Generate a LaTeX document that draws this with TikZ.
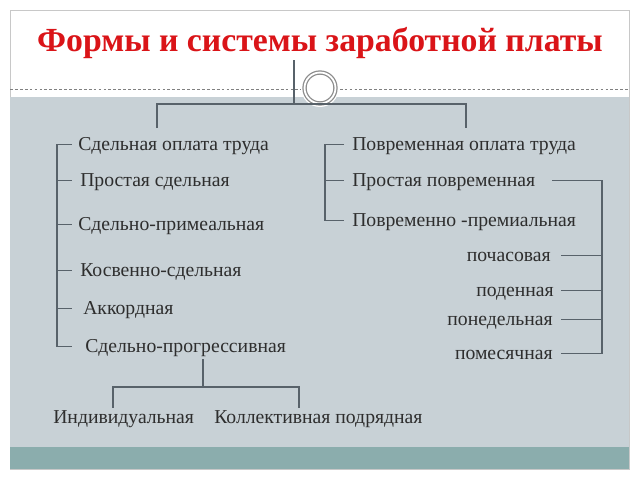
\documentclass[tikz,border=0pt]{standalone}
\usepackage{fontspec}
\setmainfont{Liberation Serif}
\usepackage{tikz}
\usetikzlibrary{positioning}
\definecolor{bodyGrey}{RGB}{200,209,214}
\definecolor{barTeal}{RGB}{139,173,173}
\definecolor{lineGrey}{RGB}{88,98,106}
\definecolor{titleRed}{RGB}{218,20,24}
\definecolor{frameGrey}{RGB}{200,200,200}

\begin{document}
\begin{tikzpicture}
      [x=0.025cm, y=-0.025cm, font=\fontsize{14}{16}\selectfont,
      % STYLES
      % The kind style is used for every form or system of pay, set on its baseline
      kind/.style={inner sep=0pt, text height=10.5pt, text depth=2.5pt, anchor=base west, text=black!82},
      % The kindRight style is the same, flush right against the side bracket
      kindRight/.style={kind, anchor=base east},
      % The heading style is used for the slide title
      heading/.style={inner sep=0pt, font=\fontsize{24}{28}\selectfont\bfseries, text=titleRed},
      % The branch style is used for the bracket lines
      branch/.style={draw=lineGrey, line width=0.9pt}]

      % Slide background
      \useasboundingbox (0,0) rectangle (640,480);
      \fill[white] (0,0) rectangle (640,480);
      \draw[frameGrey, fill=white] (10,10) rectangle (629,469);
      \fill[bodyGrey] (10,97) rectangle (629,447);
      \fill[barTeal] (10,447) rectangle (629,469);
      \draw[gray, dash pattern=on 2pt off 1.5pt, line width=0.5pt] (10,89) -- (629,89);

      % Draw title and ring
      \node [heading] (title) at (320,43) {Формы и системы заработной платы};
      \fill[white] (320,88) circle (13.5pt);
      \node [circle, draw=gray!90, line width=0.9pt, double=white, double distance=1.3pt,
        minimum size=22pt, inner sep=0pt] (ring) at (320,88) {};

      %%%%%%%%%%%%%%%
      % Piece-rate side
      \node [kind] (pieceWage) at (78,150) {Сдельная оплата труда};
      \node [kind] (simplePiece) at (80,186) {Простая сдельная};
      \node [kind] (pieceBonus) at (78,230) {Сдельно-примеальная};
      \node [kind] (indirectPiece) at (80,276) {Косвенно-сдельная};
      \node [kind] (chordPiece) at (83,314) {Аккордная};
      \node [kind] (pieceProgressive) at (85,352) {Сдельно-прогрессивная};
      \node [kind] (individual) at (53,423) {Индивидуальная};
      \node [kind, right=14pt of individual] (collective) {Коллективная подрядная};

      % Time-rate side
      \node [kind] (timeWage) at (352,150) {Повременная оплата труда};
      \node [kind] (simpleTime) at (352,186) {Простая повременная};
      \node [kind] (timeBonus) at (352,226) {Повременно -премиальная};
      \node [kindRight] (hourly) at (551,261) {почасовая};
      \node [kindRight] (daily) at (554,296) {поденная};
      \node [kindRight] (weekly) at (553,325) {понедельная};
      \node [kindRight] (monthly) at (553,359) {помесячная};

      %%%%%%%%%%%%%%%
      % Points where the brackets turn
      \coordinate (stemTop) at (294,60);
      \coordinate (dropLeft) at (157,128);
      \coordinate (dropRight) at (466,128);
      \coordinate (hubLine) at (0,104);
      \coordinate (spineLeft) at (57,0);
      \coordinate (tickLeft) at (72,0);
      \coordinate (spineRight) at (325,0);
      \coordinate (tickRight) at (344,0);
      \coordinate (sideSpine) at (602,0);
      \coordinate (sideStart) at (552,0);
      \coordinate (sideTick) at (561,0);
      \coordinate (forkMid) at (203,387);
      \coordinate (forkLeft) at (113,387);
      \coordinate (forkRight) at (299,387);

      % Draw the links
      \draw[branch] (stemTop) -- (stemTop |- hubLine);
      \draw[branch] (dropLeft) -- (dropLeft |- hubLine) -- (dropRight |- hubLine) -- (dropRight);

      \draw[branch] (tickLeft |- pieceWage.west) -- (spineLeft |- pieceWage.west)
        -- (spineLeft |- pieceProgressive.west) -- (tickLeft |- pieceProgressive.west);
      \foreach \n in {simplePiece, pieceBonus, indirectPiece, chordPiece}
        \draw[branch] (spineLeft |- \n.west) -- (tickLeft |- \n.west);

      \draw[branch] (tickRight |- timeWage.west) -- (spineRight |- timeWage.west)
        -- (spineRight |- timeBonus.west) -- (tickRight |- timeBonus.west);
      \draw[branch] (spineRight |- simpleTime.west) -- (tickRight |- simpleTime.west);

      \draw[branch] (sideStart |- simpleTime.east) -- (sideSpine |- simpleTime.east)
        -- (sideSpine |- monthly.east) -- (sideTick |- monthly.east);
      \foreach \n in {hourly, daily, weekly}
        \draw[branch] (sideTick |- \n.east) -- (sideSpine |- \n.east);

      \draw[branch, shorten <=2.5pt] (forkMid |- pieceProgressive.south) -- (forkMid);
      \draw[branch] (forkLeft |- individual.north) -- (forkLeft) -- (forkRight) -- (forkRight |- collective.north);

    \end{tikzpicture}
\end{document}
